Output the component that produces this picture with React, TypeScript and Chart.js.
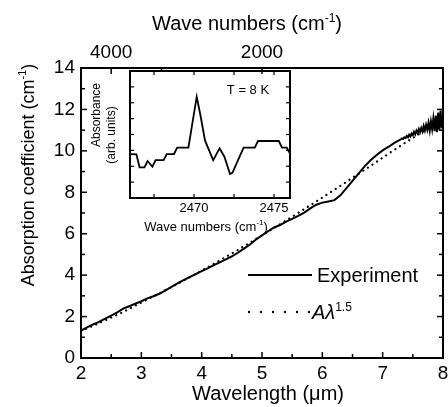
import React, { useEffect, useRef } from "react";
import { Chart, registerables } from "chart.js";

Chart.register(...registerables);

// ---------- data ----------
const expWavelength = [
  2.0, 2.1, 2.2, 2.3, 2.4, 2.5, 2.6, 2.7, 2.8, 2.9,
  3.0, 3.1, 3.2, 3.3, 3.4, 3.5, 3.6, 3.7, 3.8, 3.9,
  4.0, 4.1, 4.2, 4.3, 4.4, 4.5, 4.6, 4.7, 4.8, 4.9,
  5.0, 5.1, 5.2, 5.3, 5.4, 5.5, 5.6, 5.7, 5.8, 5.9,
  6.0, 6.1, 6.2, 6.3, 6.4, 6.5, 6.6, 6.7, 6.8, 6.9,
  7.0, 7.1, 7.2, 7.3, 7.32, 7.34, 7.36, 7.38, 7.4, 7.42,
  7.44, 7.46, 7.48, 7.5, 7.52, 7.54, 7.56, 7.58, 7.6, 7.62,
  7.64, 7.66, 7.68, 7.7, 7.72, 7.74, 7.76, 7.78, 7.8, 7.82,
  7.84, 7.86, 7.88, 7.9, 7.92, 7.94, 7.96, 7.98, 8.0,
];
const expAbsorption = [
  1.32, 1.48, 1.62, 1.74, 1.9, 2.05, 2.2, 2.38, 2.5, 2.62,
  2.74, 2.88, 2.98, 3.1, 3.27, 3.43, 3.6, 3.76, 3.9, 4.05,
  4.19, 4.33, 4.48, 4.62, 4.76, 4.91, 5.08, 5.28, 5.48, 5.72,
  5.92, 6.12, 6.3, 6.42, 6.58, 6.72, 6.86, 7.02, 7.22, 7.4,
  7.5, 7.56, 7.62, 7.85, 8.2, 8.55, 8.9, 9.25, 9.55, 9.8,
  10.02, 10.2, 10.4, 10.55, 10.6, 10.57, 10.65, 10.62, 10.72, 10.66,
  10.78, 10.7, 10.84, 10.76, 10.92, 10.8, 10.98, 10.86, 11.05, 10.9,
  11.1, 10.94, 11.2, 10.98, 11.25, 11.02, 11.35, 10.98, 11.42, 11.05,
  11.55, 10.95, 11.7, 10.9, 11.85, 11.0, 11.95, 11.1, 11.6,
];

const fitWavelength = [
  2.0, 2.25, 2.5, 2.75, 3.0, 3.25, 3.5, 3.75, 4.0, 4.25, 4.5, 4.75,
  5.0, 5.25, 5.5, 5.75, 6.0, 6.25, 6.5, 6.75, 7.0, 7.25, 7.5, 7.75, 7.95,
];
const fitAbsorption = [
  1.3, 1.62, 1.95, 2.3, 2.68, 3.05, 3.43, 3.82, 4.22, 4.63, 5.05, 5.48,
  5.92, 6.37, 6.82, 7.28, 7.75, 8.22, 8.7, 9.18, 9.67, 10.16, 10.62, 11.08, 11.4,
];

const insetWavenumber = [
  2466.0, 2466.4, 2466.6, 2466.9, 2467.1, 2467.4, 2467.6, 2468.1, 2468.3,
  2468.75, 2468.95, 2469.65, 2470.17, 2470.42, 2470.69, 2471.2, 2471.6,
  2471.9, 2472.25, 2472.4, 2473.1, 2473.8, 2474.0, 2475.3, 2475.5, 2475.8, 2476.0,
];
const insetAbsorbance = [
  2.77, 2.75, 1.93, 1.93, 2.33, 1.97, 2.39, 2.39, 2.77,
  2.77, 3.17, 3.17, 6.38, 5.12, 3.61, 2.39, 3.13,
  2.6, 1.51, 1.59, 3.17, 3.17, 3.59, 3.59, 3.17, 3.17, 2.8,
];

// ---------- ticks ----------
const xMajorTicks = [2, 3, 4, 5, 6, 7, 8];
const xMinorTicks = [2.5, 3.5, 4.5, 5.5, 6.5, 7.5];
const yMajorTicks = [0, 2, 4, 6, 8, 10, 12, 14];
const yMinorTicks = [1, 3, 5, 7, 9, 11, 13];
const topLabeledWavenumbers = [4000, 2000];
const topMinorWavenumbers = [3000];
const insetXLabeled = [2470, 2475];
const insetXMinor = [2467.5, 2472.5];
const insetYTicks = [1, 2, 3, 4, 5, 6, 7];

const FONT = '"Liberation Sans", Arial, sans-serif';

type Part = { t: string; sup?: boolean };

function drawRich(
  ctx: CanvasRenderingContext2D,
  parts: Part[],
  x: number,
  y: number,
  size: number,
  italic = false,
  align: "center" | "left" = "center"
) {
  const style = italic ? "italic " : "";
  const supSize = Math.round(size * 0.6);
  let total = 0;
  const widths = parts.map((p) => {
    ctx.font = `${style}${p.sup ? supSize : size}px ${FONT}`;
    const w = ctx.measureText(p.t).width;
    total += w;
    return w;
  });
  let cx = align === "center" ? x - total / 2 : x;
  ctx.textAlign = "left";
  ctx.textBaseline = "alphabetic";
  parts.forEach((p, i) => {
    ctx.font = `${p.sup ? "" : style}${p.sup ? supSize : size}px ${FONT}`;
    ctx.fillText(p.t, cx, p.sup ? y - size * 0.42 : y);
    cx += widths[i];
  });
}

function line(ctx: CanvasRenderingContext2D, x0: number, y0: number, x1: number, y1: number) {
  ctx.beginPath();
  ctx.moveTo(x0, y0);
  ctx.lineTo(x1, y1);
  ctx.stroke();
}

const mainDecor = {
  id: "mainDecor",
  afterDraw(chart: any) {
    const { ctx, chartArea: a, scales } = chart;
    const x = scales.x;
    const y = scales.y;
    const x2 = scales.x2;
    ctx.save();
    ctx.strokeStyle = "#000";
    ctx.fillStyle = "#000";
    ctx.lineWidth = 2;
    ctx.strokeRect(a.left, a.top, a.right - a.left, a.bottom - a.top);
    ctx.lineWidth = 1.5;
    xMajorTicks.forEach((v) => {
      const p = x.getPixelForValue(v);
      line(ctx, p, a.bottom, p, a.bottom - 6);
    });
    xMinorTicks.forEach((v) => {
      const p = x.getPixelForValue(v);
      line(ctx, p, a.bottom, p, a.bottom - 4);
    });
    yMajorTicks.forEach((v) => {
      const p = y.getPixelForValue(v);
      line(ctx, a.left, p, a.left + 6, p);
      line(ctx, a.right, p, a.right - 6, p);
    });
    yMinorTicks.forEach((v) => {
      const p = y.getPixelForValue(v);
      line(ctx, a.left, p, a.left + 4, p);
      line(ctx, a.right, p, a.right - 4, p);
    });
    topLabeledWavenumbers.forEach((w) => {
      const p = x2.getPixelForValue(10000 / w);
      line(ctx, p, a.top, p, a.top + 6);
    });
    topMinorWavenumbers.forEach((w) => {
      const p = x2.getPixelForValue(10000 / w);
      line(ctx, p, a.top, p, a.top + 4);
    });

    // axis titles
    drawRich(ctx, [{ t: "Wave numbers (cm" }, { t: "-1", sup: true }, { t: ")" }], 247, 30, 20);
    drawRich(ctx, [{ t: "Wavelength (\u03bcm)" }], 268, 400, 20);
    ctx.save();
    ctx.translate(34, 175);
    ctx.rotate(-Math.PI / 2);
    drawRich(ctx, [{ t: "Absorption coefficient (cm" }, { t: "-1", sup: true }, { t: ")" }], 0, 0, 18);
    ctx.restore();

    // legend
    const lx0 = a.left + 167;
    const lx1 = a.left + 231;
    const ly1 = a.top + 207;
    const ly2 = a.top + 244;
    ctx.lineWidth = 2;
    line(ctx, lx0, ly1, lx1, ly1);
    ctx.font = `20px ${FONT}`;
    ctx.textAlign = "left";
    ctx.textBaseline = "middle";
    ctx.fillText("Experiment", a.left + 236, ly1 + 1);
    for (let i = 0; i < 6; i++) {
      ctx.beginPath();
      ctx.arc(lx0 + 1 + i * 12, ly2, 1.2, 0, Math.PI * 2);
      ctx.fill();
    }
    drawRich(ctx, [{ t: "A\u03bb" }, { t: "1.5", sup: true }], a.left + 231, ly2 + 7, 20, true, "left");
    ctx.restore();
  },
};

const insetDecor = {
  id: "insetDecor",
  afterDraw(chart: any) {
    const { ctx, chartArea: a, scales } = chart;
    const x = scales.x;
    const y = scales.y;
    ctx.save();
    ctx.strokeStyle = "#000";
    ctx.fillStyle = "#000";
    ctx.lineWidth = 2;
    ctx.strokeRect(a.left, a.top, a.right - a.left, a.bottom - a.top);
    ctx.lineWidth = 1.2;
    [...insetXLabeled, ...insetXMinor].forEach((v) => {
      const p = x.getPixelForValue(v);
      line(ctx, p, a.bottom, p, a.bottom - 4);
      line(ctx, p, a.top, p, a.top + 4);
    });
    insetYTicks.forEach((v) => {
      const p = y.getPixelForValue(v);
      line(ctx, a.left, p, a.left + 4, p);
      line(ctx, a.right, p, a.right - 4, p);
    });
    ctx.font = `13px ${FONT}`;
    ctx.textAlign = "center";
    ctx.textBaseline = "middle";
    ctx.fillText("T = 8 K", a.left + 118, a.top + 19);
    drawRich(ctx, [{ t: "Wave numbers (cm" }, { t: "-1", sup: true }, { t: ")" }], a.left + 76, a.bottom + 32.7, 13);
    ctx.save();
    ctx.translate(a.left - 33, a.top + 44);
    ctx.rotate(-Math.PI / 2);
    ctx.font = `12px ${FONT}`;
    ctx.textAlign = "center";
    ctx.textBaseline = "middle";
    ctx.fillText("Absorbance", 0, 0);
    ctx.restore();
    ctx.save();
    ctx.translate(a.left - 18.5, a.top + 64);
    ctx.rotate(-Math.PI / 2);
    ctx.font = `12px ${FONT}`;
    ctx.textAlign = "center";
    ctx.textBaseline = "middle";
    ctx.fillText("(arb. units)", 0, 0);
    ctx.restore();
    ctx.restore();
  },
};

export default function App() {
  const mainRef = useRef<HTMLCanvasElement>(null);
  const insetRef = useRef<HTMLCanvasElement>(null);

  useEffect(() => {
    const noGrid = { display: false, drawTicks: false };
    const noBorder = { display: false };
    const main = new Chart(mainRef.current!, {
      type: "line",
      data: {
        datasets: [
          {
            label: "A\u03bb^1.5",
            data: fitWavelength.map((w, i) => ({ x: w, y: fitAbsorption[i] })),
            borderColor: "#000",
            borderWidth: 2.2,
            borderDash: [0.01, 5.5],
            borderCapStyle: "round",
            pointRadius: 0,
            tension: 0.4,
            cubicInterpolationMode: "monotone",
          },
          {
            label: "Experiment",
            data: expWavelength.map((w, i) => ({ x: w, y: expAbsorption[i] })),
            borderColor: "#000",
            borderWidth: 2,
            pointRadius: 0,
            tension: 0,
          },
        ],
      },
      options: {
        animation: false,
        responsive: false,
        events: [],
        layout: { padding: { left: 0, right: 5, top: 0, bottom: 0 } },
        plugins: { legend: { display: false }, tooltip: { enabled: false } },
        scales: {
          x: {
            type: "linear",
            position: "bottom",
            min: 2,
            max: 8,
            grid: noGrid,
            border: noBorder,
            afterBuildTicks: (s: any) => {
              s.ticks = xMajorTicks.map((v) => ({ value: v }));
            },
            ticks: {
              color: "#000",
              font: { family: FONT, size: 19 },
              padding: 4,
              maxRotation: 0,
              autoSkip: false,
              callback: (v: any) => String(v),
            },
            afterFit: (s: any) => {
              s.height = 49;
              s.paddingLeft = 0;
              s.paddingRight = 0;
            },
          },
          x2: {
            type: "linear",
            position: "top",
            min: 2,
            max: 8,
            grid: noGrid,
            border: noBorder,
            afterBuildTicks: (s: any) => {
              s.ticks = topLabeledWavenumbers.map((w) => ({ value: 10000 / w }));
            },
            ticks: {
              color: "#000",
              font: { family: FONT, size: 19 },
              padding: 4,
              maxRotation: 0,
              autoSkip: false,
              callback: (v: any) => String(Math.round(10000 / Number(v))),
            },
            afterFit: (s: any) => {
              s.height = 68;
              s.paddingLeft = 0;
              s.paddingRight = 0;
            },
          },
          y: {
            type: "linear",
            position: "left",
            min: 0,
            max: 14,
            grid: noGrid,
            border: noBorder,
            afterBuildTicks: (s: any) => {
              s.ticks = yMajorTicks.map((v) => ({ value: v }));
            },
            ticks: {
              color: "#000",
              font: { family: FONT, size: 19 },
              padding: 6,
              autoSkip: false,
              callback: (v: any) => String(v),
            },
            afterFit: (s: any) => {
              s.width = 81;
              s.paddingTop = 0;
              s.paddingBottom = 0;
            },
          },
        },
      },
      plugins: [mainDecor],
    } as any);

    const inset = new Chart(insetRef.current!, {
      type: "line",
      data: {
        datasets: [
          {
            label: "inset",
            data: insetWavenumber.map((w, i) => ({ x: w, y: insetAbsorbance[i] })),
            borderColor: "#000",
            borderWidth: 1.8,
            pointRadius: 0,
            tension: 0,
          },
        ],
      },
      options: {
        animation: false,
        responsive: false,
        events: [],
        layout: { padding: { left: 0, right: 10, top: 11, bottom: 0 } },
        plugins: { legend: { display: false }, tooltip: { enabled: false } },
        scales: {
          x: {
            type: "linear",
            min: 2466,
            max: 2476,
            grid: noGrid,
            border: noBorder,
            afterBuildTicks: (s: any) => {
              s.ticks = insetXLabeled.map((v) => ({ value: v }));
            },
            ticks: {
              color: "#000",
              font: { family: FONT, size: 13 },
              padding: 3,
              maxRotation: 0,
              autoSkip: false,
              callback: (v: any) => String(v),
            },
            afterFit: (s: any) => {
              s.height = 37;
              s.paddingLeft = 0;
              s.paddingRight = 0;
            },
          },
          y: {
            type: "linear",
            min: 0,
            max: 8,
            grid: noGrid,
            border: noBorder,
            ticks: { display: false },
            afterFit: (s: any) => {
              s.width = 50;
              s.paddingTop = 0;
              s.paddingBottom = 0;
            },
          },
        },
      },
      plugins: [insetDecor],
    } as any);

    return () => {
      main.destroy();
      inset.destroy();
    };
  }, []);

  return (
    <div style={{ position: "fixed", left: 0, top: 0, width: 448, height: 407, background: "#fff" }}>
      <canvas ref={mainRef} width={448} height={407} style={{ position: "absolute", left: 0, top: 0, width: 448, height: 407 }} />
      <canvas ref={insetRef} width={220} height={175} style={{ position: "absolute", left: 80, top: 60, width: 220, height: 175 }} />
    </div>
  );
}
